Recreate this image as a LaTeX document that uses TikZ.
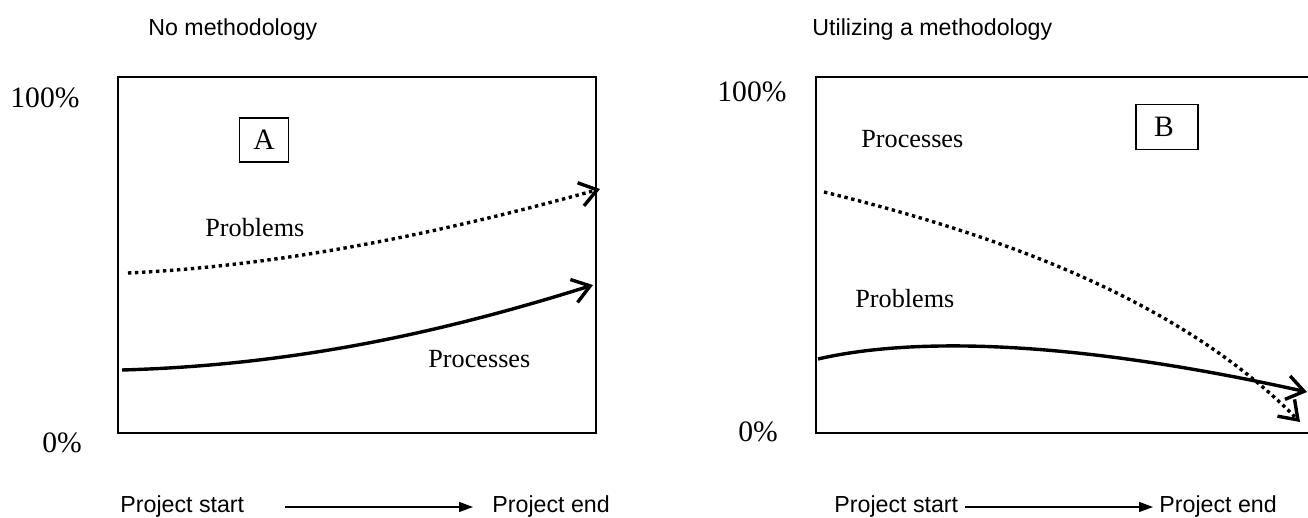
\documentclass[tikz,border=0pt]{standalone}
\usepackage{fontspec}
\setmainfont{Liberation Serif}
\setsansfont{Liberation Sans}
\usetikzlibrary{arrows.meta}
\begin{document}
\begin{tikzpicture}[x=0.5pt,y=-0.5pt,
  lbl/.style={inner sep=0pt,anchor=base west},
  pct/.style={lbl,font=\fontsize{14.8}{16}\selectfont},
  curvelbl/.style={lbl,font=\fontsize{13.1}{15}\selectfont},
  sanslbl/.style={lbl,font=\sffamily\fontsize{11.6}{14}\selectfont},
  frame/.style={line width=0.65pt},
  tag/.style={draw,line width=0.75pt,inner sep=0pt,font=\fontsize{14.8}{16}\selectfont},
  trend/.style={line width=1.7pt,-{Straight Barb[length=8.5pt,width=12pt]}},
  dottrend/.style={trend,dash pattern=on 1.7pt off 1.8pt},
  timeline/.style={line width=0.65pt,-{Triangle[length=7pt,width=5pt]}}]
\clip (0,0) rectangle (1308,518);

% ---------- left panel: no methodology ----------
\node[sanslbl] (titleA) at (148,36) {No methodology};
\draw[frame] (118,77) rectangle (596,433);
\node[pct] (hundA) at (10,108) {100\%};
\node[pct] (zeroA) at (42,452) {0\%};
\node[tag,minimum width=24.5pt,minimum height=22pt] (tagA) at (264,140) {A};
\node[curvelbl] (probA) at (205,237) {Problems};
\node[curvelbl] (procA) at (428,368) {Processes};

\coordinate (pA0) at (128,273);
\coordinate (pA1) at (600,189);
\draw[dottrend] (pA0) .. controls (300,265) and (470,225) .. (pA1);
\coordinate (sA0) at (122,370);
\coordinate (sA1) at (593,285);
\draw[trend] (sA0) .. controls (300,365) and (450,330) .. (sA1);

\node[sanslbl] (startA) at (120,512) {Project start};
\node[sanslbl] (endA) at (492,512) {Project end};
\coordinate (tA0) at (285,507);
\coordinate (tA1) at (473,507);
\draw[timeline] (tA0) -- (tA1);

% ---------- right panel: utilizing a methodology ----------
\node[sanslbl] (titleB) at (812,36) {Utilizing a methodology};
\draw[frame] (1320,77) -- (816,77) -- (816,433) -- (1320,433);
\node[pct] (hundB) at (717,102) {100\%};
\node[pct] (zeroB) at (738,442) {0\%};
\node[tag,minimum width=31pt,minimum height=22.5pt] (tagB) at (1167,127) {B\kern3pt};
\node[curvelbl] (procB) at (861,148) {Processes};
\node[curvelbl] (probB) at (855,308) {Problems};

\coordinate (pB0) at (824,192);
\coordinate (pB1) at (1300,422);
\draw[dottrend] (pB0) .. controls (1000,235) and (1180,300) .. (pB1);
\coordinate (sB0) at (818,359);
\coordinate (sB1) at (1307,392);
\draw[trend] (sB0) .. controls (900,340) and (1050,335) .. (sB1);

\node[sanslbl] (startB) at (834,512) {Project start};
\node[sanslbl] (endB) at (1159,512) {Project end};
\coordinate (tB0) at (965,507);
\coordinate (tB1) at (1153,507);
\draw[timeline] (tB0) -- (tB1);
\end{tikzpicture}
\end{document}
